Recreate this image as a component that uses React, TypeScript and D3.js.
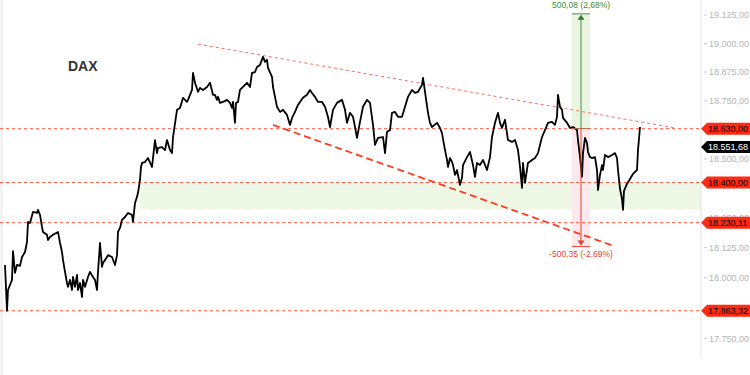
import React from "react";
import * as d3 from "d3";

// trading-session index (time) and price readings
const session = [5,7,8,12,13,15,17,20,22,25,27,28,30,33,37,38,40,42,43,47,48,50,53,58,60,62,63,65,67,68,70,72,73,75,77,78,80,82,83,85,88,90,93,95,97,98,100,102,103,107,108,112,115,117,118,120,122,125,128,132,133,135,137,138,140,141,142,145,148,152,155,157,158,162,165,167,170,172,173,177,180,183,187,188,192,193,195,198,200,203,207,210,213,215,217,218,220,223,227,230,232,233,235,236,238,240,243,247,250,252,255,257,260,263,265,267,268,272,273,275,277,280,283,287,290,292,295,298,300,303,307,310,312,315,318,322,325,328,330,333,337,342,345,347,350,353,355,357,360,363,367,370,373,375,378,383,385,387,390,392,395,398,402,405,408,412,415,418,422,423,425,428,430,432,437,440,442,445,447,448,450,452,453,455,457,460,462,463,467,470,473,475,477,480,483,487,490,492,495,498,500,502,505,508,512,515,518,520,522,523,525,528,532,535,538,542,545,548,552,555,557,558,560,562,563,567,570,573,577,578,580,582,583,585,587,588,590,592,595,597,598,600,602,603,605,608,612,615,617,618,620,622,623,624,627,630,633,637,638,640];
const price = [18053,17863,17949,17991,18111,18020,18053,18049,18086,18107,18149,18233,18229,18275,18271,18284,18263,18212,18191,18179,18157,18170,18179,18191,18145,18107,18074,18024,17978,17962,17991,17949,18003,17962,18012,17949,17978,17920,17991,17962,18003,18024,18003,17991,17949,18024,18145,18045,18061,18086,18094,18086,18053,18094,18191,18208,18242,18254,18271,18263,18233,18313,18339,18356,18411,18466,18483,18487,18504,18466,18581,18525,18547,18551,18538,18581,18538,18525,18594,18711,18719,18763,18745,18754,18797,18871,18828,18789,18806,18797,18810,18828,18776,18776,18754,18767,18741,18745,18754,18741,18719,18745,18655,18741,18745,18797,18810,18828,18810,18871,18875,18897,18906,18941,18919,18928,18893,18854,18810,18767,18724,18702,18711,18689,18646,18676,18702,18732,18745,18763,18776,18797,18784,18767,18745,18745,18724,18680,18637,18711,18741,18754,18711,18655,18698,18681,18637,18590,18659,18724,18754,18741,18646,18560,18590,18594,18525,18616,18624,18698,18702,18681,18681,18724,18767,18797,18784,18789,18819,18849,18789,18698,18655,18637,18655,18633,18611,18538,18496,18466,18504,18487,18474,18432,18453,18390,18420,18474,18508,18530,18474,18424,18483,18474,18496,18453,18508,18594,18655,18698,18655,18633,18668,18581,18573,18581,18538,18466,18377,18483,18398,18483,18496,18504,18525,18594,18624,18655,18659,18646,18681,18776,18724,18711,18676,18655,18633,18637,18624,18581,18508,18424,18525,18590,18568,18530,18508,18504,18508,18453,18368,18432,18474,18453,18517,18508,18517,18525,18504,18453,18373,18330,18284,18364,18394,18415,18436,18453,18538,18637];

const axisTicks = [19125, 19000, 18875, 18750, 18500, 18250, 18125, 18000, 17750];
const levels = [18630, 18400, 18230.11, 17863.32];
const lastPrice = 18551.68;
const zoneTop = 18400;
const zoneBottom = 18286;
const zoneStart = 140;
const upperTrend: [number, number][] = [[198, 18997], [675, 18633]];
const lowerTrend: [number, number][] = [[273, 18646], [614, 18132]];
const measureBase = 18630;
const measureUp = 500.08;
const measureDown = 500.35;
const measureStart = 572;
const measureEnd = 590;
const title = "DAX";

const de = d3.formatLocale({ decimal: ",", thousands: ".", grouping: [3], currency: ["", "€"] });
const fmt = de.format(",.2f");

export default function App() {
  const W = 750, H = 375;
  const axisX = 701;
  const x = d3.scaleLinear().domain([0, 700]).range([0, 700]);
  const y = d3.scaleLog().domain([17750, 19125]).range([338.3, 15]);
  const line = d3.line<number>().x((_, i) => x(session[i])).y((d) => y(d));
  const font = "Liberation Sans, Arial, sans-serif";
  const red = "#ff2a12";
  const mCx = x((measureStart + measureEnd) / 2);
  const upTop = measureBase + measureUp;
  const downBot = measureBase - measureDown;
  const pctUp = (measureUp / measureBase) * 100;
  const pctDown = (measureDown / measureBase) * 100;
  const pct = de.format(".2f");

  const tag = (v: number, bg: string, fg: string, key: string) => {
    const yy = y(v);
    return (
      <g key={key}>
        <path d={`M${axisX},${yy} L${axisX + 6},${yy - 6} L${W},${yy - 6} L${W},${yy + 6} L${axisX + 6},${yy + 6} Z`} fill={bg} />
        <text x={axisX + 7} y={yy + 3.2} fontSize={9} fill={fg} fontFamily={font}>{fmt(v)}</text>
      </g>
    );
  };

  return (
    <svg width={W} height={H} style={{ position: "fixed", left: 0, top: 0, background: "#fff" }}>
      <line x1={1.5} x2={1.5} y1={0} y2={H} stroke="#eeeeee" strokeWidth={2} />
      {/* support zone */}
      <rect x={x(zoneStart)} width={axisX - x(zoneStart)} y={y(zoneTop)} height={y(zoneBottom) - y(zoneTop)} fill="#eef7e4" />
      {/* measurement boxes */}
      <rect x={x(measureStart)} width={x(measureEnd) - x(measureStart)} y={y(upTop)} height={y(measureBase) - y(upTop)} fill="#e9f5e1" />
      <rect x={x(measureStart)} width={x(measureEnd) - x(measureStart)} y={y(measureBase)} height={y(downBot) - y(measureBase)} fill="#fbe9ee" />
      {/* horizontal levels */}
      {levels.map((v, i) => (
        <line key={i} x1={0} x2={axisX} y1={y(v)} y2={y(v)} stroke="#ff5c4a" strokeWidth={1} strokeDasharray="3,3" />
      ))}
      {/* trend lines */}
      <line x1={x(upperTrend[0][0])} y1={y(upperTrend[0][1])} x2={x(upperTrend[1][0])} y2={y(upperTrend[1][1])} stroke="#ff6a5a" strokeWidth={1} strokeDasharray="3,3" />
      <line x1={x(lowerTrend[0][0])} y1={y(lowerTrend[0][1])} x2={x(lowerTrend[1][0])} y2={y(lowerTrend[1][1])} stroke="#ff3a22" strokeWidth={1.8} strokeDasharray="7,4" />
      {/* price */}
      <path d={line(price) || ""} fill="none" stroke="#000" strokeWidth={1.8} strokeLinejoin="round" />
      {/* measurement lines */}
      <line x1={x(measureStart)} x2={x(measureEnd)} y1={y(measureBase)} y2={y(measureBase)} stroke="#b06a50" strokeWidth={1} />
      <line x1={mCx} x2={mCx} y1={y(upTop) + 2} y2={y(measureBase)} stroke="#4a8a4a" strokeWidth={1} />
      <line x1={x(measureStart)} x2={x(measureEnd)} y1={y(upTop)} y2={y(upTop)} stroke="#4a8a4a" strokeWidth={1} />
      <path d={`M${mCx},${y(upTop) + 1} L${mCx - 3.5},${y(upTop) + 6} L${mCx + 3.5},${y(upTop) + 6} Z`} fill="#2f7a2f" />
      <text x={mCx} y={y(upTop) - 6} textAnchor="middle" fontSize={8.5} fill="#3e8c3e" fontFamily={font}>{`${fmt(measureUp)} (${pct(pctUp)}%)`}</text>
      <line x1={mCx} x2={mCx} y1={y(measureBase)} y2={y(downBot) - 2} stroke="#e8402a" strokeWidth={1} />
      <line x1={x(measureStart)} x2={x(measureEnd)} y1={y(downBot)} y2={y(downBot)} stroke="#e8402a" strokeWidth={1} />
      <path d={`M${mCx},${y(downBot) - 1} L${mCx - 3.5},${y(downBot) - 6} L${mCx + 3.5},${y(downBot) - 6} Z`} fill="#e8402a" />
      <text x={mCx} y={y(downBot) + 10} textAnchor="middle" fontSize={8.5} fill="#e8402a" fontFamily={font}>{`-${fmt(measureDown)} (-${pct(pctDown)}%)`}</text>
      {/* title */}
      <text x={68} y={71} fontSize={14} fontWeight="bold" fill="#333" fontFamily={font}>{title}</text>
      {/* right axis */}
      <line x1={axisX} x2={axisX} y1={0} y2={358} stroke="#e2e2e2" strokeWidth={1} />
      {axisTicks.map((t) => (
        <g key={t}>
          <line x1={axisX + 3} x2={axisX + 6} y1={y(t)} y2={y(t)} stroke="#c8c8c8" />
          <text x={axisX + 8} y={y(t) + 3.2} fontSize={9} fill="#b4b4b4" fontFamily={font}>{fmt(t)}</text>
        </g>
      ))}
      {levels.map((v, i) => tag(v, red, "#000", "l" + i))}
      {tag(lastPrice, "#000", "#fff", "last")}
    </svg>
  );
}
